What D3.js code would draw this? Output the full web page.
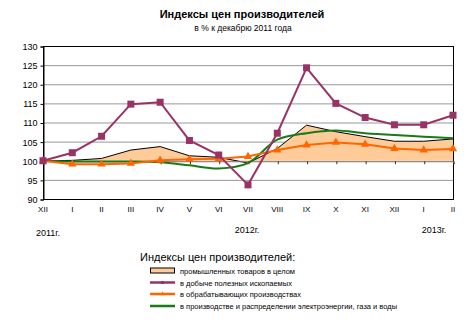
<!DOCTYPE html>
<html>
<head>
<meta charset="utf-8">
<script src="https://cdn.jsdelivr.net/npm/d3@7/dist/d3.min.js"></script>
<style>
  html, body { margin: 0; padding: 0; background: #fff; }
  svg { display: block; font-family: "Liberation Sans", Arial, sans-serif; }
</style>
</head>
<body>
<svg id="chart" width="472" height="322"></svg>
<script>
// Month labels along the category axis (Dec 2011 .. Feb 2013)
const months = ["XII", "I", "II", "III", "IV", "V", "VI", "VII", "VIII", "IX", "X", "XI", "XII", "I", "II"];
const yearLabels = ["2011г.", "2012г.", "2013г."];
const yTicks = [90, 95, 100, 105, 110, 115, 120, 125, 130];

// Producer price indices, % of December 2011
const industry      = [100, 100.1, 100.6, 102.8, 103.7, 101.3, 100.9, 99.4, 103.2, 109.3, 107.6, 106.3, 105.1, 105.1, 105.7];
const mining        = [100, 102.1, 106.4, 114.8, 115.3, 105.3, 101.5, 93.7, 107.2, 124.3, 115.0, 111.3, 109.4, 109.4, 111.9];
const manufacturing = [100, 99.1, 99.1, 99.3, 100.1, 100.4, 100.5, 101.1, 102.8, 104.1, 104.8, 104.3, 103.2, 102.8, 103.1];
const energy        = [100, 99.8, 99.8, 99.8, 99.6, 98.8, 98.0, 99.4, 105.5, 107.2, 107.9, 107.2, 106.7, 106.3, 105.9];

const legendTitle = "Индексы цен производителей:";
const legendNames = [
  "промышленных товаров в целом",
  "в добыче полезных ископаемых",
  "в обрабатывающих производствах",
  "в производстве и распределении электроэнергии, газа и воды"
];

const colors = { area: "#FFCC99", mining: "#993366", manuf: "#FF6600", energy: "#1A7A1A" };

const svg = d3.select("#chart");
const plotL = 43, plotR = 453, plotT = 46, plotB = 199;

const x = d3.scalePoint().domain(d3.range(months.length)).range([plotL, plotR]);
const y = d3.scaleLinear().domain([90, 130]).range([plotB, plotT]);

// Title
svg.append("text").attr("x", 242).attr("y", 18).attr("text-anchor", "middle")
  .attr("font-size", 11).attr("font-weight", "bold").text("Индексы цен производителей");
svg.append("text").attr("x", 243).attr("y", 31).attr("text-anchor", "middle")
  .attr("font-size", 8.5).text("в  % к декабрю 2011 года");

// Gridlines
svg.append("g").selectAll("line").data(yTicks.filter(d => d > 90 && d < 130)).join("line")
  .attr("x1", plotL).attr("x2", plotR)
  .attr("y1", d => y(d) + 0.5).attr("y2", d => y(d) + 0.5)
  .attr("stroke", "#999").attr("stroke-width", 1);

// Left axis with ticks
const yAxis = d3.axisLeft(y).tickValues(yTicks).tickSize(3).tickPadding(3);
const gy = svg.append("g").attr("transform", `translate(${plotL + 0.5},0.5)`).call(yAxis);
gy.select(".domain").attr("stroke", "#000");
gy.selectAll(".tick line").attr("stroke", "#000");
gy.selectAll("text").attr("font-size", 9).attr("fill", "#000").attr("font-family", "Liberation Sans, Arial, sans-serif");

// Frame of the plot area
svg.append("rect").attr("x", plotL + 0.5).attr("y", plotT + 0.5)
  .attr("width", plotR - plotL).attr("height", plotB - plotT)
  .attr("fill", "none").attr("stroke", "#000").attr("stroke-width", 1);

// Area of all-industry index measured from the 100 level
const area = d3.area().x((d, i) => x(i)).y0(y(100)).y1(d => y(d));
svg.append("path").datum(industry).attr("d", area).attr("fill", colors.area);
svg.append("path").datum(industry)
  .attr("d", d3.line().x((d, i) => x(i)).y(d => y(d)))
  .attr("fill", "none").attr("stroke", "#000").attr("stroke-width", 1);

// Category axis crossing at 100 with tick marks
const xAxis = d3.axisBottom(x).tickSize(3).tickFormat("");
const gx = svg.append("g").attr("transform", `translate(0.5,${y(100) + 0.5})`).call(xAxis);
gx.select(".domain").attr("stroke", "#808080");
gx.selectAll(".tick line").attr("stroke", "#333");

// Month labels at the bottom
svg.append("g").selectAll("text").data(months).join("text")
  .attr("x", (d, i) => x(i)).attr("y", 212).attr("text-anchor", "middle")
  .attr("font-size", 8).attr("fill", "#000").text(d => d);

// Year labels
const yearPos = [[48, 236], [247, 233], [434, 233]];
svg.append("g").selectAll("text").data(yearLabels).join("text")
  .attr("x", (d, i) => yearPos[i][0]).attr("y", (d, i) => yearPos[i][1])
  .attr("text-anchor", "middle").attr("font-size", 9).text(d => d);

// Electricity, gas and water: smoothed line
svg.append("path").datum(energy)
  .attr("d", d3.line().x((d, i) => x(i)).y(d => y(d)).curve(d3.curveCatmullRom.alpha(0.5)))
  .attr("fill", "none").attr("stroke", colors.energy).attr("stroke-width", 2);

// Manufacturing: line with triangles
svg.append("path").datum(manufacturing)
  .attr("d", d3.line().x((d, i) => x(i)).y(d => y(d)))
  .attr("fill", "none").attr("stroke", colors.manuf).attr("stroke-width", 2);
svg.append("g").selectAll("path").data(manufacturing).join("path")
  .attr("transform", (d, i) => `translate(${x(i)},${y(d)})`)
  .attr("d", d3.symbol(d3.symbolTriangle, 30)())
  .attr("fill", colors.manuf);

// Mining: line with squares
svg.append("path").datum(mining)
  .attr("d", d3.line().x((d, i) => x(i)).y(d => y(d)))
  .attr("fill", "none").attr("stroke", colors.mining).attr("stroke-width", 2);
svg.append("g").selectAll("rect").data(mining).join("rect")
  .attr("x", (d, i) => x(i) - 3.5).attr("y", d => y(d) - 3.5)
  .attr("width", 7).attr("height", 7).attr("fill", colors.mining);

// Legend
svg.append("text").attr("x", 140).attr("y", 261).attr("font-size", 11).text(legendTitle);
const lg = svg.append("g");
const rowY = [270.5, 282.5, 294, 306];
legendNames.forEach((name, i) => {
  const ry = rowY[i];
  if (i === 0) {
    lg.append("rect").attr("x", 150.5).attr("y", ry - 2.5).attr("width", 24).attr("height", 5)
      .attr("fill", colors.area).attr("stroke", "#000").attr("stroke-width", 1);
  } else {
    const c = [null, colors.mining, colors.manuf, colors.energy][i];
    lg.append("line").attr("x1", 150).attr("x2", 175).attr("y1", ry).attr("y2", ry)
      .attr("stroke", c).attr("stroke-width", 2.5);
    if (i === 1) lg.append("rect").attr("x", 161).attr("y", ry - 1.5).attr("width", 3).attr("height", 3).attr("fill", c);
    if (i === 2) lg.append("path").attr("transform", `translate(162.5,${ry})`)
      .attr("d", d3.symbol(d3.symbolTriangle, 8)()).attr("fill", c);
  }
  lg.append("text").attr("x", 180).attr("y", ry + 3).attr("font-size", 7.5).text(name);
});
</script>
</body>
</html>
